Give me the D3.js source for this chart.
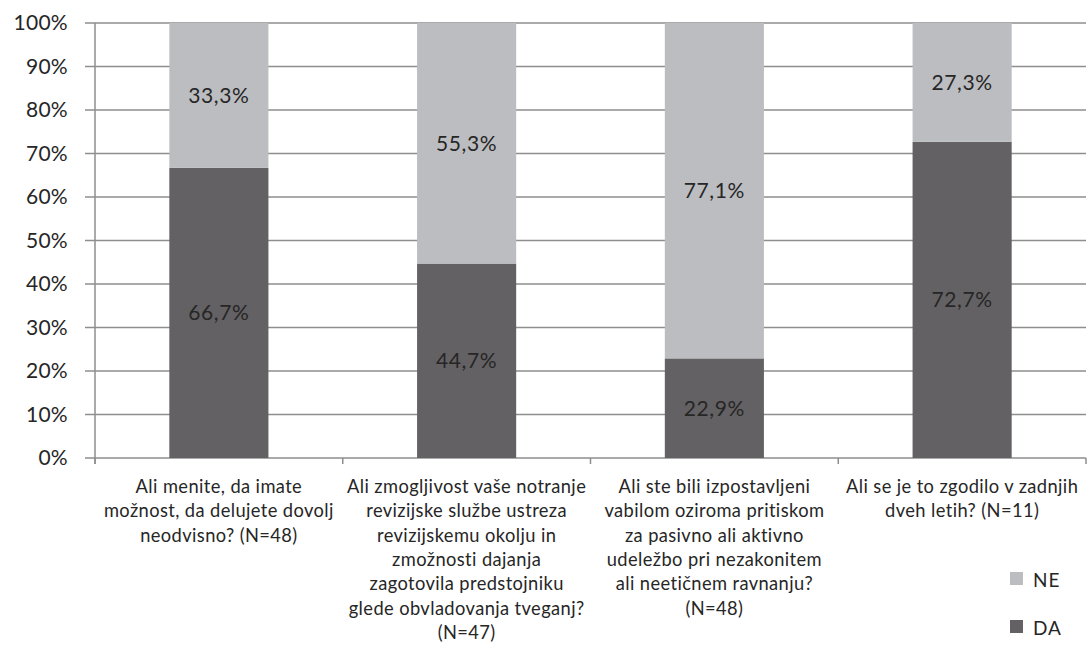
<!DOCTYPE html>
<html>
<head>
<meta charset="utf-8">
<script src="https://cdn.jsdelivr.net/npm/d3@7"></script>
<style>
  body { margin: 0; background: #fff; }
  svg { font-family: Lato, "Open Sans", sans-serif; }
</style>
</head>
<body>
<div id="chart"></div>
<script>
const width = 1088;
const height = 650;

// Podatki
const categories = [
  ["Ali menite, da imate", "možnost, da delujete dovolj", "neodvisno? (N=48)"],
  ["Ali zmogljivost vaše notranje", "revizijske službe ustreza", "revizijskemu okolju in", "zmožnosti dajanja", "zagotovila predstojniku", "glede obvladovanja tveganj?", "(N=47)"],
  ["Ali ste bili izpostavljeni", "vabilom oziroma pritiskom", "za pasivno ali aktivno", "udeležbo pri nezakonitem", "ali neetičnem ravnanju?", "(N=48)"],
  ["Ali se je to zgodilo v zadnjih", "dveh letih? (N=11)"]
];
const daValues = [66.7, 44.7, 22.9, 72.7];
const neValues = [33.3, 55.3, 77.1, 27.3];
const seriesNames = ["NE", "DA"];
const yTicks = [0, 10, 20, 30, 40, 50, 60, 70, 80, 90, 100];

const colors = { DA: "#636163", NE: "#bcbdc0" };
const gridColor = "#8e8e8e";
const textColor = "#262626";

const margin = { top: 23, right: 2, bottom: 192, left: 95 };
const innerW = width - margin.left - margin.right;
const innerH = height - margin.top - margin.bottom;

const svg = d3.select("#chart").append("svg")
  .attr("width", width)
  .attr("height", height);

const g = svg.append("g")
  .attr("transform", `translate(${margin.left},${margin.top})`);

const x = d3.scaleBand()
  .domain(d3.range(categories.length))
  .range([0, innerW])
  .paddingInner(0.6)
  .paddingOuter(0.3);

const xOuter = d3.scaleBand()
  .domain(d3.range(categories.length))
  .range([0, innerW]);

const y = d3.scaleLinear().domain([0, 100]).range([innerH, 0]);

// Mreža
g.selectAll(".grid")
  .data(yTicks)
  .enter().append("line")
  .attr("x1", -10)
  .attr("x2", innerW)
  .attr("y1", d => y(d))
  .attr("y2", d => y(d))
  .attr("stroke", gridColor)
  .attr("stroke-width", 1.5);

// Oznake y
g.selectAll(".ylab")
  .data(yTicks)
  .enter().append("text")
  .attr("x", -27)
  .attr("y", d => y(d))
  .attr("dy", "0.35em")
  .attr("text-anchor", "end")
  .attr("font-size", 21)
  .attr("letter-spacing", 0.3)
  .attr("fill", textColor)
  .text(d => d + "%");

// Stolpci
const stacks = categories.map((c, i) => [
  { key: "DA", y0: 0, y1: daValues[i], i },
  { key: "NE", y0: daValues[i], y1: daValues[i] + neValues[i], i }
]).flat();

g.selectAll(".bar")
  .data(stacks)
  .enter().append("rect")
  .attr("x", d => x(d.i))
  .attr("width", x.bandwidth())
  .attr("y", d => y(d.y1))
  .attr("height", d => y(d.y0) - y(d.y1))
  .attr("fill", d => colors[d.key]);

g.selectAll(".val")
  .data(stacks)
  .enter().append("text")
  .attr("x", d => x(d.i) + x.bandwidth() / 2)
  .attr("y", d => (y(d.y0) + y(d.y1)) / 2)
  .attr("dy", "0.35em")
  .attr("text-anchor", "middle")
  .attr("font-size", 21)
  .attr("letter-spacing", 0.6)
  .attr("fill", textColor)
  .text(d => (d.y1 - d.y0).toFixed(1).replace(".", ",") + "%");

// Osi
g.append("line")
  .attr("x1", 0).attr("x2", 0)
  .attr("y1", 0).attr("y2", innerH + 6)
  .attr("stroke", gridColor).attr("stroke-width", 1.5);

g.selectAll(".xtick")
  .data(d3.range(categories.length + 1))
  .enter().append("line")
  .attr("x1", d => d * xOuter.step())
  .attr("x2", d => d * xOuter.step())
  .attr("y1", innerH)
  .attr("y2", innerH + 6)
  .attr("stroke", gridColor).attr("stroke-width", 1.5);

// Oznake kategorij
const catLabels = g.selectAll(".cat")
  .data(categories)
  .enter().append("text")
  .attr("text-anchor", "middle")
  .attr("font-size", 18.3)
  .attr("letter-spacing", 0.4)
  .attr("fill", textColor)
  .attr("transform", (d, i) => `translate(${xOuter(i) + xOuter.bandwidth() / 2},${innerH + 35})`);

catLabels.selectAll("tspan")
  .data(d => d)
  .enter().append("tspan")
  .attr("x", 0)
  .attr("y", (d, j) => j * 24.3)
  .text(d => d);

// Legenda
const legend = svg.append("g")
  .attr("transform", "translate(1010,572)");

legend.selectAll("rect")
  .data(seriesNames)
  .enter().append("rect")
  .attr("x", 0)
  .attr("y", (d, i) => i * 48)
  .attr("width", 13)
  .attr("height", 13)
  .attr("fill", d => colors[d]);

legend.selectAll("text")
  .data(seriesNames)
  .enter().append("text")
  .attr("x", 23)
  .attr("y", (d, i) => i * 48 + 7)
  .attr("dy", "0.4em")
  .attr("font-size", 19)
  .attr("letter-spacing", 1)
  .attr("fill", textColor)
  .text(d => d);
</script>
</body>
</html>
